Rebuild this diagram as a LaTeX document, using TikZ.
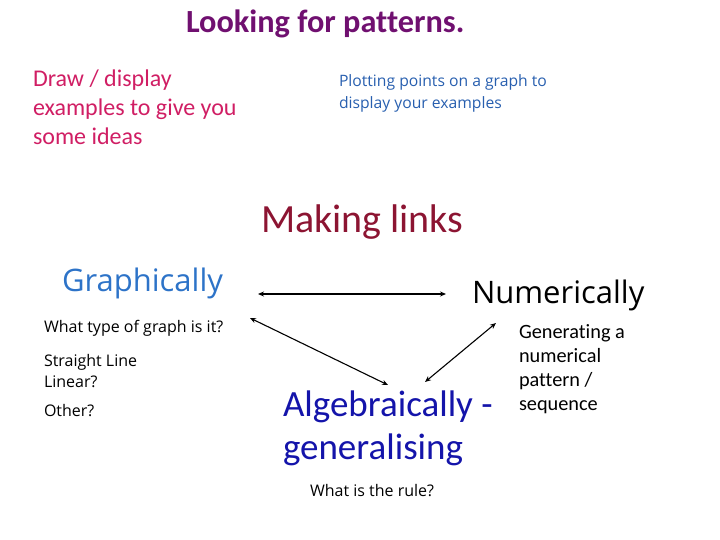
\documentclass[tikz,border=0pt]{standalone}
\usepackage{fontspec}
\setmainfont[Ligatures=NoCommon]{Carlito}
\newfontfamily\segoe[Ligatures=NoCommon]{Open Sans}
\usetikzlibrary{arrows.meta}
\definecolor{titlepurple}{RGB}{112,16,112}
\definecolor{magentaish}{RGB}{208,30,100}
\definecolor{plotblue}{RGB}{40,95,175}
\definecolor{linkred}{RGB}{140,20,50}
\definecolor{graphblue}{RGB}{45,115,200}
\definecolor{algblue}{RGB}{20,20,170}
\tikzset{
  txt/.style={anchor=base west, inner sep=0pt, outer sep=0pt},
  small/.style={txt, font=\segoe\fontsize{16}{20}\selectfont},
  link/.style={line width=1.1pt, {Stealth[length=6pt,width=5pt]}-{Stealth[length=6pt,width=5pt]}}
}
\begin{document}
\begin{tikzpicture}[x=1pt,y=-1pt]
\useasboundingbox (0,0) rectangle (720,540);
\node[txt, text=titlepurple, font=\fontsize{32.3}{36}\selectfont\bfseries] (title) at (186,33) {Looking for patterns.};
\begin{scope}[every node/.style={txt, text=magentaish, font=\fontsize{24}{29}\selectfont}]
\node (draw1) at (33,87) {Draw / display};
\node (draw2) at (33,116) {examples to give you};
\node (draw3) at (33,145) {some ideas};
\end{scope}
\begin{scope}[every node/.style={txt, text=plotblue, font=\segoe\fontsize{15.7}{22}\selectfont}]
\node (plot1) at (339,87) {Plotting points on a graph to};
\node (plot2) at (339,109) {display your examples};
\end{scope}
\node[txt, text=linkred, font=\fontsize{40}{44}\selectfont] (links) at (261,233) {Making links};
\node[txt, text=graphblue, font=\segoe\fontsize{31}{34}\selectfont] (graph) at (62,291) {Graphically};
\node[txt, text=black, font=\segoe\fontsize{31}{34}\selectfont] (num) at (472,303) {Numerically};
\node[small] (type) at (44,332) {What type of graph is it?};
\node[small] (straight) at (44,366) {Straight Line};
\node[small] (linear) at (44,387) {Linear?};
\node[small] (other) at (44,416) {Other?};
\begin{scope}[every node/.style={txt, text=algblue, font=\fontsize{37}{43}\selectfont}]
\node (alg1) at (283,416) {Algebraically -};
\node (alg2) at (283,459) {generalising};
\end{scope}
\node[small] (rule) at (310,496) {What is the rule?};
\begin{scope}[every node/.style={txt, font=\fontsize{20.3}{24}\selectfont}]
\node (gen1) at (519,338) {Generating a};
\node (gen2) at (519,362) {numerical};
\node (gen3) at (519,386) {pattern /};
\node (gen4) at (519,410) {sequence};
\end{scope}
\coordinate (gE) at (258,294);
\coordinate (nW) at (446,294);
\coordinate (gS) at (250,318);
\coordinate (aL) at (388,385);
\coordinate (nS) at (496,323);
\coordinate (aR) at (425,382);
\draw[link] (gE) -- (nW);
\draw[link] (gS) -- (aL);
\draw[link] (nS) -- (aR);
\end{tikzpicture}
\end{document}
